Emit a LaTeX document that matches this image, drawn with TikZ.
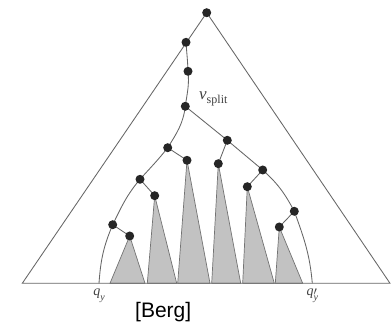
\documentclass[tikz,border=0pt]{standalone}
\usepackage{fontspec}
\newfontfamily\bergfont{Liberation Sans}
\newfontfamily\labfont{Liberation Serif}
\begin{document}
\begin{tikzpicture}[x=1pt,y=1pt,
  edge/.style={draw=black!60, line width=0.85pt},
  subtree/.style={fill=black!24, draw=black!55, line width=0.7pt, line join=miter},
  lbl/.style={inner sep=0pt, text=black!75}]
\useasboundingbox (0,0) rectangle (391,323);
\fill[white] (0,0) rectangle (391,323);
% outer triangle corners
\coordinate (bl) at (22.3,39.7);
\coordinate (br) at (390,39.7);
\coordinate (qy) at (99,39.7);
\coordinate (qyp) at (312.3,39.7);
% subtree triangles
\foreach \n/\ax/\ay/\l/\r in {t1/129.7/87/110/145, t2/154.7/127.3/147.3/176.7, t3/187/162.7/177.7/210,
                               t4/218.3/159.3/211.7/240.7, t5/247.3/136.3/242.7/274.3, t6/279.3/96/275.3/302.7}{
  \coordinate (\n a) at (\ax,\ay);
  \coordinate (\n l) at (\l,39.7);
  \coordinate (\n r) at (\r,39.7);
  \path[subtree] (\n l) -- (\n a) -- (\n r) -- cycle;
}
% tree nodes (named points)
\coordinate (root) at (206.7,310.3);
\coordinate (n1) at (186,280.7);
\coordinate (n2) at (188,251.7);
\coordinate (vs) at (185.3,216.7);
\coordinate (L) at (167.7,175.3);
\coordinate (R) at (227.3,182.7);
\coordinate (Lr) at (187,162.7);
\coordinate (LL) at (140,143.7);
\coordinate (LLr) at (154.7,127.3);
\coordinate (LLL) at (112.7,98.3);
\coordinate (LLLr) at (129.7,87);
\coordinate (Rl) at (218.3,159.3);
\coordinate (RR) at (262.7,153);
\coordinate (RRl) at (247.3,136.3);
\coordinate (RRR) at (294.3,111.7);
\coordinate (RRRl) at (279.3,96);
% outer triangle
\draw[edge, line join=miter] (root) -- (bl) -- (br) -- cycle;
% search paths
\draw[edge] (n1) to[out=-86, in=92] (n2);
\draw[edge] (n2) to[out=-84, in=82] (vs);
\draw[edge] (vs) to[out=-97, in=58] (L);
\draw[edge] (L) to[out=-128, in=48] (LL);
\draw[edge] (LL) to[out=-130, in=64] (LLL);
\draw[edge] (LLL) to[out=-113, in=86] (qy);
\draw[edge] (vs) -- (R);
\draw[edge] (R) -- (RR);
\draw[edge] (RR) to[out=-42, in=118] (RRR);
\draw[edge] (RRR) to[out=-70, in=95] (qyp);
% subtree links
\draw[edge] (L) -- (Lr);
\draw[edge] (LL) -- (LLr);
\draw[edge] (LLL) -- (LLLr);
\draw[edge] (R) -- (Rl);
\draw[edge] (RR) -- (RRl);
\draw[edge] (RRR) -- (RRRl);
% dots
\foreach \d in {root,n1,n2,vs,L,R,Lr,LL,LLr,LLL,LLLr,Rl,RR,RRl,RRR,RRRl}{
  \fill[black!85] (\d) circle (4.5pt);
}
% labels
\node[lbl, anchor=base west, font=\labfont\fontsize{17}{17}\selectfont] (vlab) at (199,223)
  {\itshape v\upshape\raisebox{-0.2em}{\fontsize{12}{12}\selectfont split}};
\node[lbl, anchor=base, font=\labfont\fontsize{14}{14}\selectfont] (qlab) at (99,27)
  {\itshape q\raisebox{-0.3em}{\fontsize{10}{10}\selectfont y}};
\node[lbl, anchor=base, font=\labfont\fontsize{14}{14}\selectfont] (qplab) at (312.3,27)
  {\itshape q\rlap{\raisebox{0.05em}{\fontsize{12}{12}\selectfont$\prime$}}\raisebox{-0.3em}{\fontsize{10}{10}\selectfont y}};
\node[inner sep=0pt, anchor=base west, font=\bergfont\fontsize{21}{21}\selectfont] (berg) at (135,5) {[Berg]};
\end{tikzpicture}
\end{document}
